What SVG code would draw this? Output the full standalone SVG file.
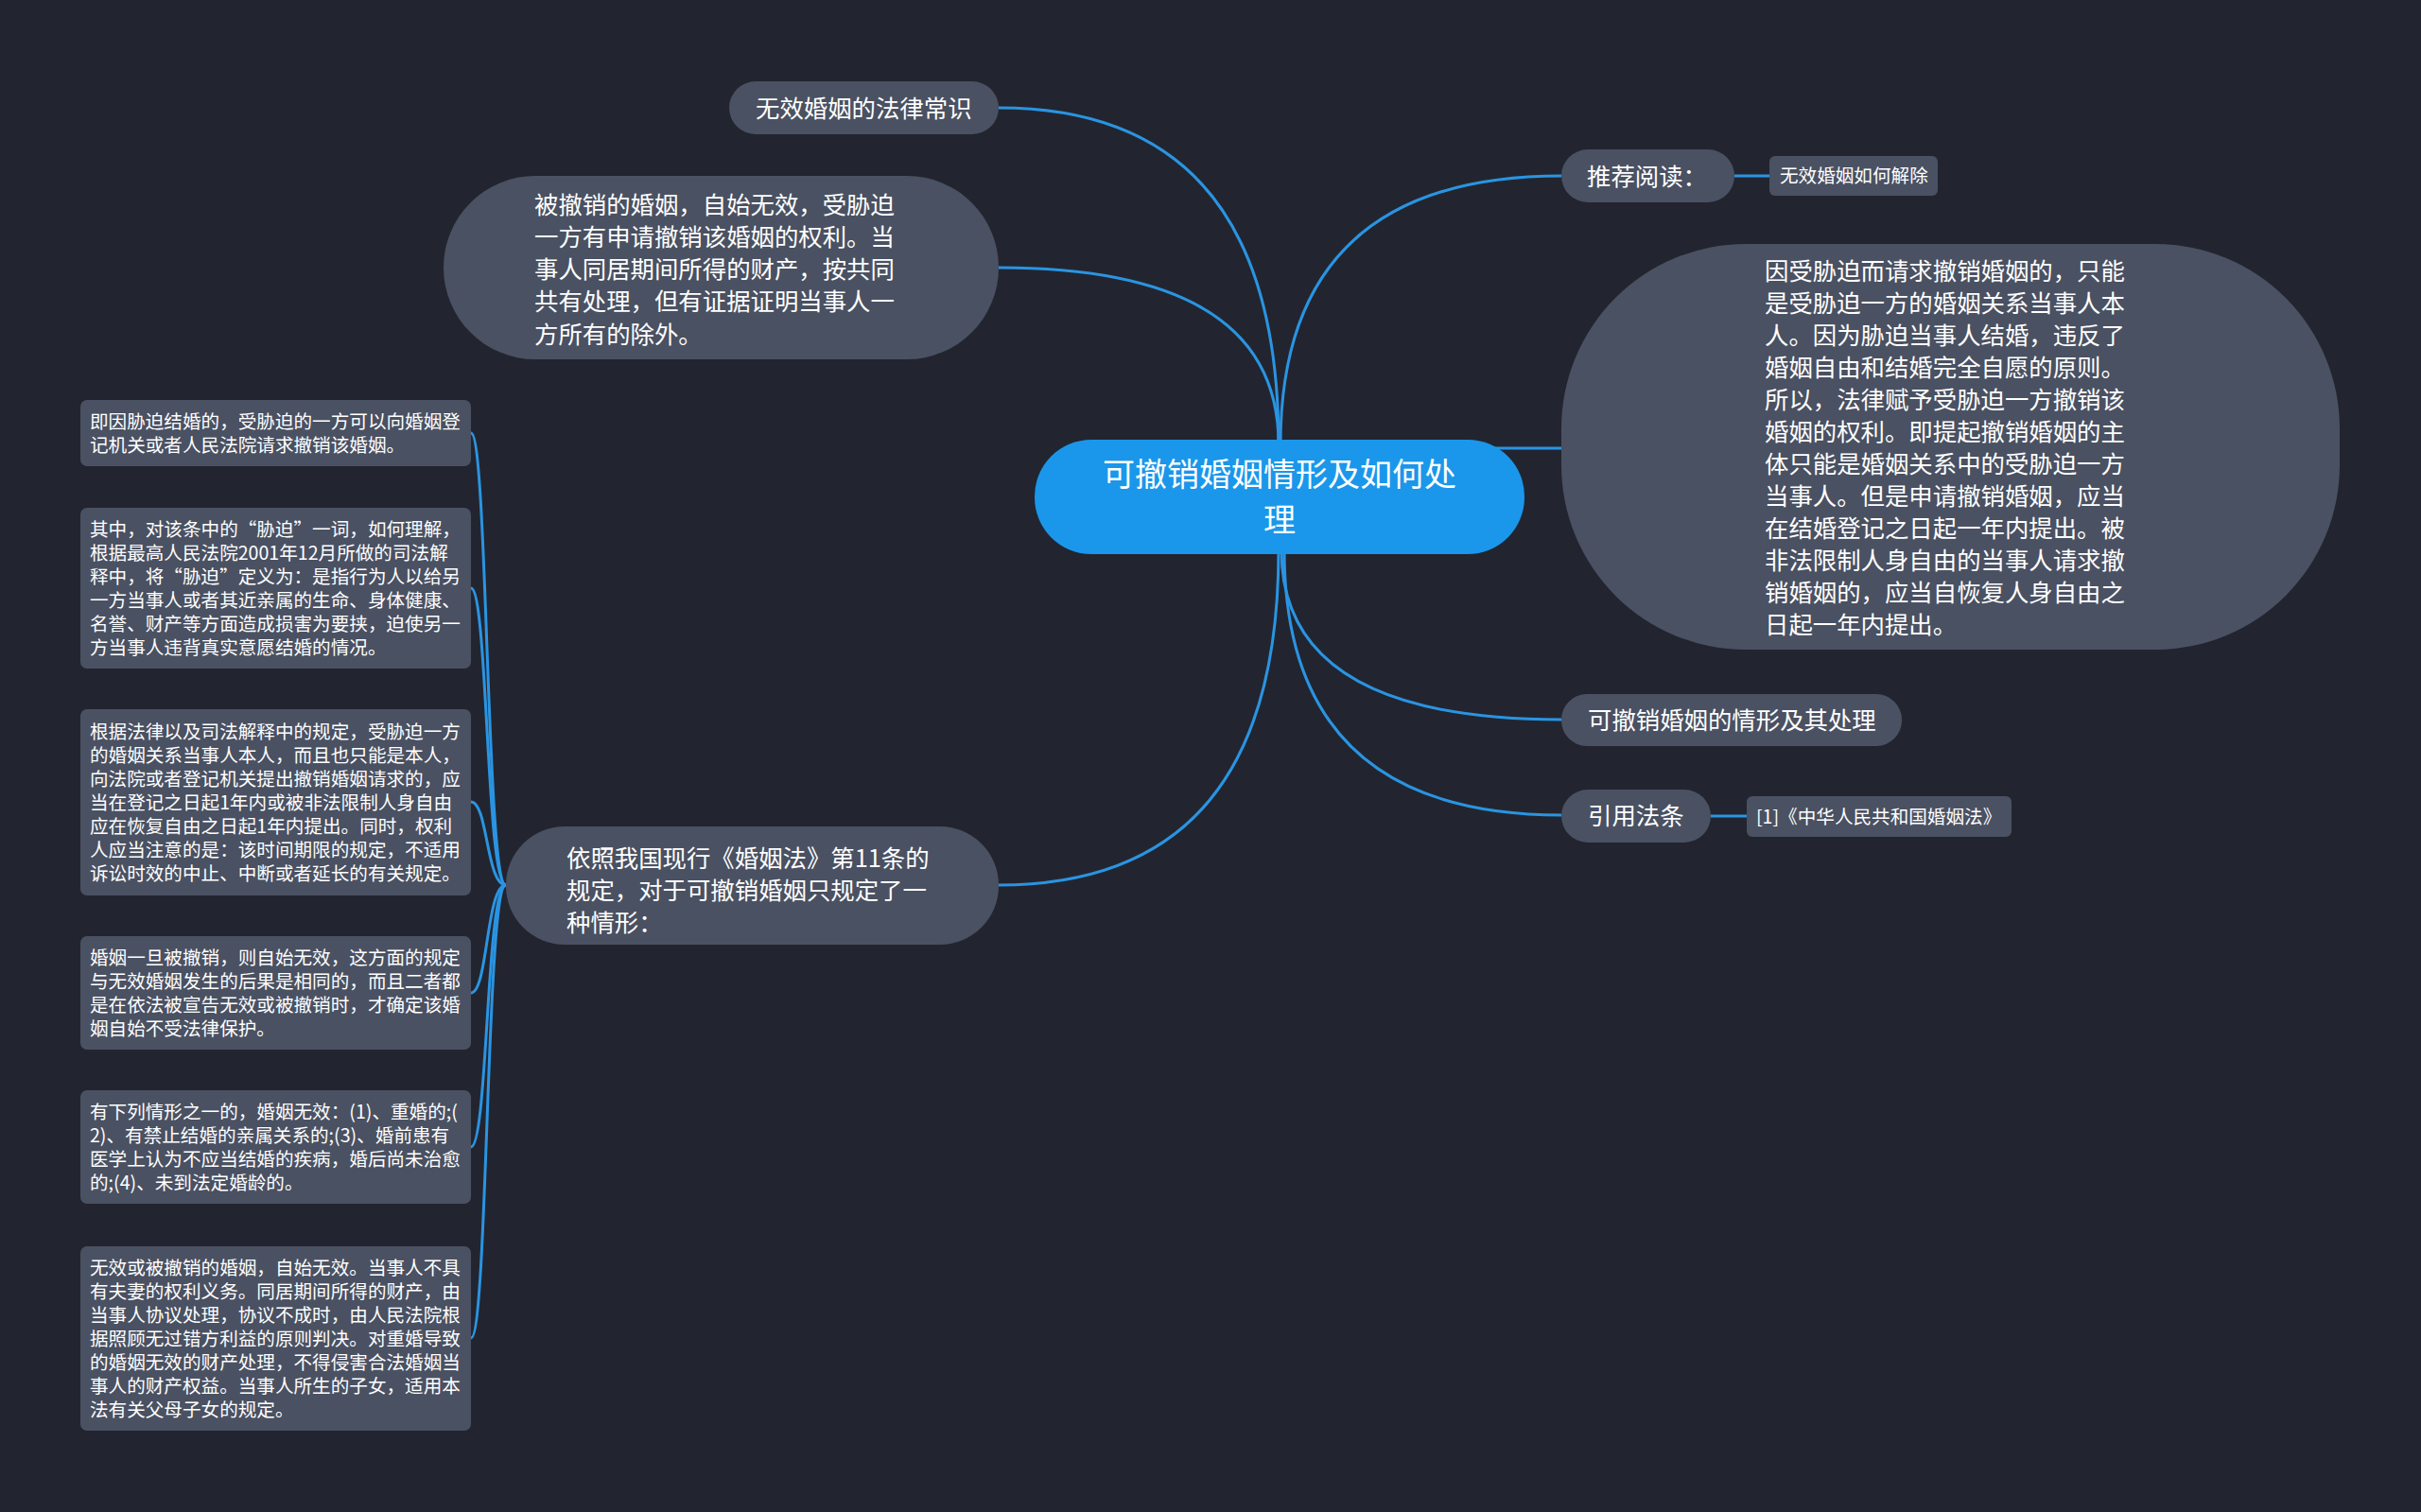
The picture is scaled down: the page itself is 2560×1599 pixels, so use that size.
<svg xmlns="http://www.w3.org/2000/svg" width="2560" height="1599" viewBox="0 0 2560 1599">
<style>
.bg{fill:#22252f}
.n{fill:#4a5162}
.c{fill:#1a97ea}
.t{font-family:"Noto Sans CJK SC","Noto Sans",sans-serif;fill:#ffffff}
.t1{font-size:25.4px}
.t0{font-size:34px}
.t2{font-size:19.6px}
.ln{fill:none;stroke:#2a94e2;stroke-width:3}
</style>
<rect class="bg" x="0" y="0" width="2560" height="1599"/>
<g id="connectors">
<path class="ln" d="M 1352 470 Q 1352 114 1056 114"/>
<path class="ln" d="M 1352 470 Q 1352 283 1056 283"/>
<path class="ln" d="M 1354 470 Q 1354 186 1651 186"/>
<path class="ln" d="M 1560 474 L 1652 474"/>
<path class="ln" d="M 1352 582 Q 1352 936 1056 936"/>
<path class="ln" d="M 1355 582 Q 1355 761 1651 761"/>
<path class="ln" d="M 1358 582 Q 1358 862 1651 862"/>
<path class="ln" d="M 1834 186 L 1871 186"/>
<path class="ln" d="M 1809 863 L 1847 863"/>
<path class="ln" d="M 535 936 C 514 936 516 458 498 458"/>
<path class="ln" d="M 535 936 C 514 936 516 622 498 622"/>
<path class="ln" d="M 535 936 C 514 936 516 848 498 848"/>
<path class="ln" d="M 535 936 C 514 936 516 1050 498 1050"/>
<path class="ln" d="M 535 936 C 514 936 516 1213 498 1213"/>
<path class="ln" d="M 535 936 C 514 936 516 1415 498 1415"/>
</g>
<g id="center">
<rect class="c" x="1094" y="465" width="518" height="121" rx="60"/>
<text class="t t0" x="1353" y="514" text-anchor="middle">可撤销婚姻情形及如何处</text>
<text class="t t0" x="1353" y="562" text-anchor="middle">理</text>
</g>
<g id="n-top1">
<rect class="n" x="771" y="86" width="285" height="56" rx="28"/>
<text class="t t1" x="799" y="124">无效婚姻的法律常识</text>
</g>
<g id="n-top2">
<rect class="n" x="469" y="186" width="587" height="194" rx="97"/>
<text class="t t1" x="565" y="226">被撤销的婚姻，自始无效，受胁迫</text>
<text class="t t1" x="565" y="260">一方有申请撤销该婚姻的权利。当</text>
<text class="t t1" x="565" y="294">事人同居期间所得的财产，按共同</text>
<text class="t t1" x="565" y="328">共有处理，但有证据证明当事人一</text>
<text class="t t1" x="565" y="363">方所有的除外。</text>
</g>
<g id="n-left">
<rect class="n" x="535" y="874" width="521" height="125" rx="62"/>
<text class="t t1" x="599" y="917">依照我国现行《婚姻法》第11条的</text>
<text class="t t1" x="599" y="951">规定，对于可撤销婚姻只规定了一</text>
<text class="t t1" x="599" y="985">种情形：</text>
</g>
<g id="leaf1">
<rect class="n" x="85" y="423" width="413" height="70" rx="7"/>
<text class="t t2" x="95" y="453">即因胁迫结婚的，受胁迫的一方可以向婚姻登</text>
<text class="t t2" x="95" y="478">记机关或者人民法院请求撤销该婚姻。</text>
</g>
<g id="leaf2">
<rect class="n" x="85" y="537" width="413" height="170" rx="7"/>
<text class="t t2" x="95" y="567">其中，对该条中的“胁迫”一词，如何理解，</text>
<text class="t t2" x="95" y="592">根据最高人民法院2001年12月所做的司法解</text>
<text class="t t2" x="95" y="617">释中，将“胁迫”定义为：是指行为人以给另</text>
<text class="t t2" x="95" y="642">一方当事人或者其近亲属的生命、身体健康、</text>
<text class="t t2" x="95" y="667">名誉、财产等方面造成损害为要挟，迫使另一</text>
<text class="t t2" x="95" y="692">方当事人违背真实意愿结婚的情况。</text>
</g>
<g id="leaf3">
<rect class="n" x="85" y="750" width="413" height="197" rx="7"/>
<text class="t t2" x="95" y="781">根据法律以及司法解释中的规定，受胁迫一方</text>
<text class="t t2" x="95" y="806">的婚姻关系当事人本人，而且也只能是本人，</text>
<text class="t t2" x="95" y="831">向法院或者登记机关提出撤销婚姻请求的，应</text>
<text class="t t2" x="95" y="856">当在登记之日起1年内或被非法限制人身自由</text>
<text class="t t2" x="95" y="881">应在恢复自由之日起1年内提出。同时，权利</text>
<text class="t t2" x="95" y="906">人应当注意的是：该时间期限的规定，不适用</text>
<text class="t t2" x="95" y="931">诉讼时效的中止、中断或者延长的有关规定。</text>
</g>
<g id="leaf4">
<rect class="n" x="85" y="990" width="413" height="120" rx="7"/>
<text class="t t2" x="95" y="1020">婚姻一旦被撤销，则自始无效，这方面的规定</text>
<text class="t t2" x="95" y="1045">与无效婚姻发生的后果是相同的，而且二者都</text>
<text class="t t2" x="95" y="1070">是在依法被宣告无效或被撤销时，才确定该婚</text>
<text class="t t2" x="95" y="1095">姻自始不受法律保护。</text>
</g>
<g id="leaf5">
<rect class="n" x="85" y="1153" width="413" height="120" rx="7"/>
<text class="t t2" x="95" y="1183">有下列情形之一的，婚姻无效：(1)、重婚的;(</text>
<text class="t t2" x="95" y="1208">2)、有禁止结婚的亲属关系的;(3)、婚前患有</text>
<text class="t t2" x="95" y="1233">医学上认为不应当结婚的疾病，婚后尚未治愈</text>
<text class="t t2" x="95" y="1258">的;(4)、未到法定婚龄的。</text>
</g>
<g id="leaf6">
<rect class="n" x="85" y="1318" width="413" height="195" rx="7"/>
<text class="t t2" x="95" y="1348">无效或被撤销的婚姻，自始无效。当事人不具</text>
<text class="t t2" x="95" y="1373">有夫妻的权利义务。同居期间所得的财产，由</text>
<text class="t t2" x="95" y="1398">当事人协议处理，协议不成时，由人民法院根</text>
<text class="t t2" x="95" y="1423">据照顾无过错方利益的原则判决。对重婚导致</text>
<text class="t t2" x="95" y="1448">的婚姻无效的财产处理，不得侵害合法婚姻当</text>
<text class="t t2" x="95" y="1473">事人的财产权益。当事人所生的子女，适用本</text>
<text class="t t2" x="95" y="1498">法有关父母子女的规定。</text>
</g>
<g id="n-read">
<rect class="n" x="1651" y="158" width="183" height="56" rx="28"/>
<text class="t t1" x="1678" y="196">推荐阅读：</text>
</g>
<g id="leaf-read">
<rect class="n" x="1871" y="165" width="178" height="42" rx="6"/>
<text class="t t2" x="1882" y="193">无效婚姻如何解除</text>
</g>
<g id="n-big">
<rect class="n" x="1651" y="258" width="823" height="429" rx="195"/>
<text class="t t1" x="1866" y="296">因受胁迫而请求撤销婚姻的，只能</text>
<text class="t t1" x="1866" y="330">是受胁迫一方的婚姻关系当事人本</text>
<text class="t t1" x="1866" y="364">人。因为胁迫当事人结婚，违反了</text>
<text class="t t1" x="1866" y="398">婚姻自由和结婚完全自愿的原则。</text>
<text class="t t1" x="1866" y="432">所以，法律赋予受胁迫一方撤销该</text>
<text class="t t1" x="1866" y="466">婚姻的权利。即提起撤销婚姻的主</text>
<text class="t t1" x="1866" y="500">体只能是婚姻关系中的受胁迫一方</text>
<text class="t t1" x="1866" y="534">当事人。但是申请撤销婚姻，应当</text>
<text class="t t1" x="1866" y="568">在结婚登记之日起一年内提出。被</text>
<text class="t t1" x="1866" y="602">非法限制人身自由的当事人请求撤</text>
<text class="t t1" x="1866" y="636">销婚姻的，应当自恢复人身自由之</text>
<text class="t t1" x="1866" y="670">日起一年内提出。</text>
</g>
<g id="n-case">
<rect class="n" x="1651" y="734" width="360" height="55" rx="27"/>
<text class="t t1" x="1679" y="771">可撤销婚姻的情形及其处理</text>
</g>
<g id="n-cite">
<rect class="n" x="1651" y="835" width="158" height="56" rx="28"/>
<text class="t t1" x="1679" y="872">引用法条</text>
</g>
<g id="leaf-cite">
<rect class="n" x="1847" y="842" width="280" height="43" rx="6"/>
<text class="t t2" x="1857" y="871">[1]《中华人民共和国婚姻法》</text>
</g>
</svg>
